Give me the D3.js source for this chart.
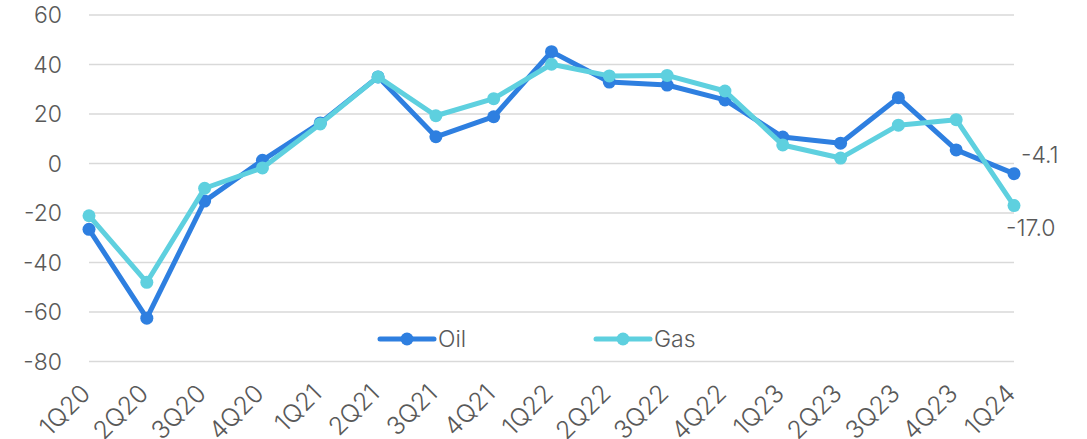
<!DOCTYPE html>
<html>
<head>
<meta charset="utf-8">
<script src="https://cdn.jsdelivr.net/npm/d3@7"></script>
<style>
  body { margin: 0; background: #fff; }
  text { font-family: Inter, "Noto Sans", sans-serif; fill: #595959; font-weight: 300; }
</style>
</head>
<body>
<svg id="chart" width="1087" height="439"></svg>
<script>
var quarters = ["1Q20","2Q20","3Q20","4Q20","1Q21","2Q21","3Q21","4Q21","1Q22","2Q22","3Q22","4Q22","1Q23","2Q23","3Q23","4Q23","1Q24"];
var oil = [-26.6,-62.5,-15.2,1.3,16.4,35.0,10.8,18.9,45.2,32.9,31.7,25.7,10.7,8.2,26.6,5.5,-4.1];
var gas = [-21.1,-48.0,-10.0,-1.8,16.0,35.0,19.3,26.2,40.1,35.4,35.6,29.3,7.5,2.2,15.5,17.7,-17.0];
var yTicks = [-80,-60,-40,-20,0,20,40,60];

var svg = d3.select("#chart"),
    margin = {left: 89, right: 73, top: 15},
    width = +svg.attr("width"),
    height = +svg.attr("height");

var x = d3.scalePoint()
  .domain(quarters)
  .range([margin.left, width - margin.right]);
var y = d3.scaleLinear()
  .domain([-80, 60])
  .range([361.5, margin.top]);

// gridlines
svg.append("g").selectAll("line")
  .data(yTicks).enter().append("line")
  .attr("x1", margin.left).attr("x2", width - margin.right)
  .attr("y1", d => y(d)).attr("y2", d => y(d))
  .attr("stroke", "#d9d9d9").attr("stroke-width", 1.5);

// y axis labels
svg.append("g").selectAll("text")
  .data(yTicks).enter().append("text")
  .attr("x", 62).attr("y", d => y(d))
  .attr("dy", "0.36em")
  .attr("text-anchor", "end")
  .attr("font-size", 23)
  .text(d => d);

// x axis labels
svg.append("g").selectAll("text")
  .data(quarters).enter().append("text")
  .attr("transform", d => `translate(${x(d) + 3},${395}) rotate(-45)`)
  .attr("text-anchor", "end")
  .attr("font-size", 25)
  .text(d => d);

var series = [
  {name: "Oil", values: oil, color: "#2e7fe0"},
  {name: "Gas", values: gas, color: "#5ed0df"}
];

var line = d3.line()
  .x((d, i) => x(quarters[i]))
  .y(d => y(d));

series.forEach(s => {
  var g = svg.append("g");
  g.append("path")
    .datum(s.values)
    .attr("d", line)
    .attr("fill", "none")
    .attr("stroke", s.color)
    .attr("stroke-width", 5)
    .attr("stroke-linejoin", "round");
  g.selectAll("circle")
    .data(s.values).enter().append("circle")
    .attr("cx", (d, i) => x(quarters[i]))
    .attr("cy", d => y(d))
    .attr("r", 6.5)
    .attr("fill", s.color);
});

// end labels
var last = quarters.length - 1;
svg.append("text")
  .attr("x", x(quarters[last]) + 7).attr("y", 163)
  .attr("font-size", 23)
  .text(oil[last].toFixed(1));
svg.append("text")
  .attr("x", x(quarters[last]) - 8).attr("y", 236)
  .attr("font-size", 23)
  .text(gas[last].toFixed(1));

// legend
var legendX = [380, 596];
series.forEach((s, i) => {
  var lg = svg.append("g").attr("transform", `translate(${legendX[i]},339)`);
  lg.append("line").attr("x1", 0).attr("x2", 54)
    .attr("stroke", s.color).attr("stroke-width", 5).attr("stroke-linecap", "round");
  lg.append("circle").attr("cx", 27).attr("r", 6.5).attr("fill", s.color);
  lg.append("text").attr("x", 58).attr("dy", "0.36em")
    .attr("font-size", 23).text(s.name);
});
</script>
</body>
</html>
